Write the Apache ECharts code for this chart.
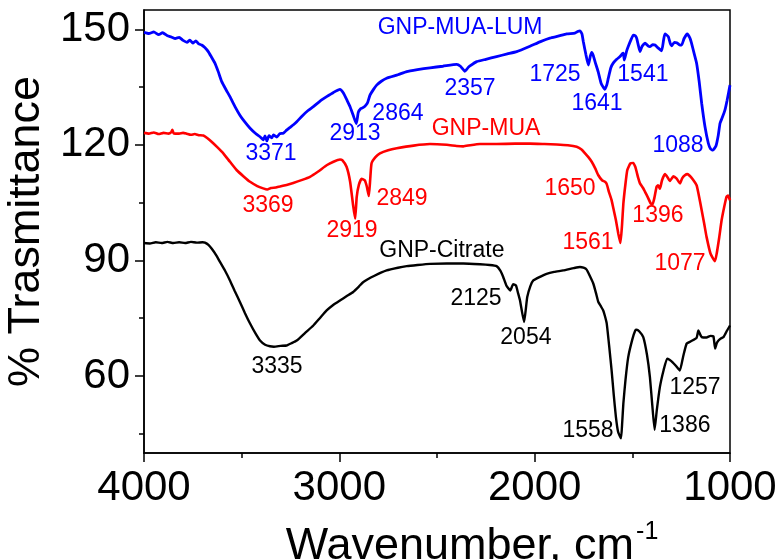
<!DOCTYPE html>
<html>
<head>
<meta charset="utf-8">
<script src="https://cdn.jsdelivr.net/npm/echarts@6/dist/echarts.min.js"></script>
<style>
  html, body { margin: 0; padding: 0; background: #fff; }
  #chart { width: 780px; height: 560px; }
</style>
</head>
<body>
<div id="chart"></div>
<script>
// FTIR spectra: [wavenumber (cm-1), % transmittance]
const gnpMuaLum = [
  [4000,149.2],[3975,148.9],[3950,149.3],[3925,148.6],[3905,149.1],[3880,148.3],[3860,148.0],[3840,147.6],
  [3820,147.9],[3800,147.1],[3780,146.6],[3765,147.2],[3750,146.4],[3735,147.0],[3720,146.2],[3705,145.9],
  [3690,145.3],[3671,144.2],[3655,142.8],[3637,141.2],[3620,139.0],[3602,136.4],[3580,134.3],[3560,132.5],
  [3535,130.0],[3509,127.7],[3485,126.0],[3457,124.3],[3430,123.0],[3406,122.1],[3390,121.3],[3380,122.3],
  [3371,121.0],[3360,122.4],[3345,121.8],[3338,122.6],[3320,122.0],[3305,122.9],[3287,123.0],[3270,123.8],
  [3250,124.6],[3235,125.2],[3218,126.0],[3190,127.5],[3160,128.9],[3133,129.9],[3100,131.3],[3065,132.5],
  [3030,133.6],[2997,134.4],[2980,133.5],[2960,131.5],[2945,129.9],[2930,127.8],[2913,125.5],[2903,128.4],
  [2890,129.4],[2877,129.7],[2864,130.3],[2855,131.0],[2843,132.9],[2825,134.4],[2809,135.5],[2785,136.5],
  [2758,137.3],[2700,138.2],[2655,139.0],[2600,139.5],[2536,140.0],[2470,140.4],[2399,140.9],[2380,140.4],
  [2357,139.1],[2340,140.1],[2331,140.5],[2297,141.6],[2250,142.2],[2195,142.9],[2140,143.6],[2092,144.2],
  [2024,145.6],[1970,146.8],[1922,147.7],[1880,148.2],[1836,148.8],[1794,149.0],[1780,149.4],[1768,149.6],
  [1758,148.8],[1751,146.8],[1738,143.5],[1725,140.7],[1715,143.0],[1708,144.0],[1700,143.2],[1691,141.6],
  [1675,139.0],[1660,136.0],[1641,134.4],[1630,135.7],[1623,137.3],[1610,140.0],[1598,141.2],[1580,142.2],
  [1563,142.9],[1550,143.7],[1546,143.8],[1541,142.0],[1530,144.2],[1521,145.5],[1505,147.5],[1495,148.5],
  [1485,148.3],[1478,147.7],[1470,146.0],[1461,144.2],[1450,145.6],[1435,146.4],[1420,145.7],[1410,145.5],
  [1395,146.0],[1384,145.9],[1367,145.1],[1350,144.4],[1340,147.2],[1333,148.8],[1316,148.1],[1305,146.2],
  [1299,145.7],[1285,146.6],[1273,146.5],[1260,146.0],[1248,145.9],[1235,147.6],[1219,148.8],[1205,147.7],
  [1197,146.4],[1185,144.0],[1171,141.2],[1158,136.5],[1145,130.8],[1128,124.7],[1111,120.4],[1100,119.0],
  [1088,118.6],[1072,119.7],[1060,122.5],[1051,125.6],[1040,127.0],[1026,129.0],[1015,131.5],[1000,135.5]
];

const gnpMua = [
  [4000,123.1],[3975,122.9],[3950,123.2],[3925,122.8],[3900,123.1],[3875,122.9],[3860,123.3],[3855,123.9],
  [3848,123.0],[3820,122.9],[3800,123.1],[3782,122.9],[3760,122.6],[3740,122.8],[3720,122.5],[3696,122.4],
  [3675,121.7],[3654,120.8],[3625,119.4],[3594,117.8],[3560,115.6],[3525,113.4],[3490,111.8],[3457,110.4],
  [3420,109.3],[3390,108.7],[3369,108.4],[3350,108.8],[3325,108.9],[3304,109.2],[3270,109.6],[3236,110.1],
  [3190,110.9],[3150,111.7],[3110,113.0],[3065,114.7],[3030,115.6],[2997,116.2],[2985,116.0],[2963,114.3],
  [2945,110.5],[2930,104.5],[2919,100.8],[2911,106.5],[2900,109.6],[2886,111.2],[2870,110.8],[2860,109.3],
  [2849,106.7],[2842,111.0],[2835,115.2],[2815,116.8],[2792,117.8],[2750,118.6],[2706,119.1],[2620,119.8],
  [2536,120.2],[2450,120.0],[2400,119.7],[2365,119.6],[2330,119.9],[2280,120.2],[2195,120.2],[2100,120.3],
  [2024,120.3],[1950,120.2],[1887,120.1],[1830,119.9],[1785,119.5],[1760,118.8],[1742,117.8],[1725,116.8],
  [1708,115.6],[1690,113.9],[1674,112.1],[1655,110.8],[1640,110.4],[1631,109.8],[1620,107.8],[1606,105.6],
  [1595,103.0],[1584,100.4],[1572,97.0],[1561,94.5],[1553,99.0],[1546,104.7],[1536,109.5],[1526,113.4],
  [1510,115.2],[1495,115.3],[1485,114.3],[1478,113.0],[1470,111.4],[1461,110.0],[1445,108.8],[1435,107.8],
  [1420,106.3],[1406,104.8],[1396,104.6],[1386,106.5],[1376,109.1],[1368,109.5],[1359,108.6],[1348,110.8],
  [1333,112.4],[1320,111.6],[1308,110.6],[1290,111.8],[1273,111.2],[1256,110.0],[1245,111.3],[1231,112.1],
  [1218,112.4],[1205,111.9],[1190,111.0],[1171,109.5],[1160,107.0],[1145,103.0],[1132,99.5],[1120,96.1],
  [1100,91.8],[1077,89.8],[1068,91.8],[1055,96.0],[1043,100.4],[1030,103.8],[1018,106.5],[1010,106.8],
  [1000,105.6]
];

const gnpCitrate = [
  [4000,94.5],[3970,94.4],[3940,94.7],[3910,94.5],[3880,94.8],[3850,94.5],[3820,94.7],[3790,94.5],
  [3760,94.8],[3730,94.6],[3700,94.7],[3688,94.6],[3670,94.0],[3653,93.0],[3630,91.3],[3611,89.6],
  [3585,87.3],[3560,84.8],[3535,82.0],[3509,79.2],[3483,76.3],[3457,73.6],[3430,71.1],[3406,69.2],
  [3380,68.1],[3355,67.7],[3335,67.6],[3300,67.8],[3270,67.9],[3245,68.5],[3218,69.2],[3175,71.2],
  [3133,73.1],[3100,75.0],[3065,77.0],[3030,78.5],[2997,79.6],[2960,80.8],[2929,81.8],[2900,83.2],
  [2877,84.4],[2820,86.0],[2758,87.4],[2700,88.1],[2655,88.5],[2600,88.8],[2536,89.1],[2450,89.2],
  [2365,89.2],[2280,89.0],[2230,88.8],[2195,88.5],[2175,87.3],[2161,85.7],[2145,83.5],[2125,82.2],
  [2110,83.8],[2096,83.5],[2085,81.5],[2075,79.6],[2054,74.0],[2045,77.5],[2038,80.5],[2022,83.3],
  [2007,84.8],[1970,85.8],[1939,86.5],[1900,87.0],[1854,87.4],[1800,88.0],[1768,88.3],[1750,88.1],
  [1734,87.6],[1718,86.0],[1700,84.0],[1686,81.5],[1674,79.2],[1660,78.0],[1649,77.0],[1640,75.5],
  [1631,73.6],[1618,67.5],[1606,61.4],[1595,55.0],[1584,49.3],[1573,45.5],[1558,43.8],[1552,47.8],
  [1546,52.8],[1535,59.0],[1521,64.9],[1500,69.5],[1485,71.8],[1478,72.0],[1465,71.6],[1444,70.1],
  [1425,65.5],[1410,59.7],[1398,52.5],[1386,46.0],[1375,51.0],[1359,57.1],[1340,61.5],[1322,64.5],
  [1310,64.2],[1295,63.6],[1275,62.5],[1257,61.4],[1240,65.0],[1222,68.4],[1200,69.0],[1171,69.9],
  [1162,71.8],[1153,70.8],[1145,70.1],[1120,70.0],[1100,70.4],[1085,70.3],[1076,67.1],[1068,68.5],
  [1059,69.2],[1045,69.8],[1033,70.1],[1015,71.8],[1000,73.1]
];

// Tick values
const xMajorTicks = [4000, 3000, 2000, 1000];
const xMinorTicks = [3500, 2500, 1500];
const yMajorTicks = [60, 90, 120, 150];
const yMinorTicks = [45, 75, 105, 135];

// Annotation texts for each spectrum
const lumTexts = ['GNP-MUA-LUM', '3371', '2913', '2864', '2357', '1725', '1641', '1541', '1088'];
const muaTexts = ['GNP-MUA', '3369', '2919', '2849', '1650', '1561', '1396', '1077'];
const citTexts = ['GNP-Citrate', '3335', '2125', '2054', '1558', '1386', '1257'];

// Where each annotation sits, in axis units [wavenumber, transmittance]
const lumAnchors = [[2382,150.3],[3350,117.8],[2920,123.0],[2700,128.2],[2331,134.7],[1896,138.1],[1681,130.6],[1446,138.1],[1266,119.9]];
const muaAnchors = [[2249,124.1],[3365,104.3],[2935,97.8],[2679,106.1],[1819,108.5],[1727,94.7],[1369,101.7],[1256,89.2]];
const citAnchors = [[2475,92.6],[3319,62.4],[2300,80.1],[2045,70.0],[1727,45.8],[1231,47.1],[1179,57.0]];

const FONT = "'Liberation Sans', Arial, sans-serif";
const BLUE = '#0000ff', RED = '#ff0000', BLACK = '#000000';

function spectrum(name, data, color, width) {
  return {
    name, type: 'line', data, xAxisIndex: 0, yAxisIndex: 0,
    showSymbol: false, symbol: 'none', smooth: 0.15, silent: true,
    lineStyle: { color, width }, z: 3
  };
}

function annotations(texts, anchors, color) {
  return {
    type: 'scatter', xAxisIndex: 0, yAxisIndex: 0, silent: true,
    symbolSize: 0.01, z: 5,
    itemStyle: { opacity: 1, color },
    data: anchors.map((a, i) => ({ value: a, name: texts[i] })),
    label: {
      show: true, position: 'inside', formatter: p => p.name, opacity: 1,
      color, fontFamily: FONT, fontSize: 23, align: 'center', verticalAlign: 'middle'
    }
  };
}

const plainNumber = v => String(v);

const chart = echarts.init(document.getElementById('chart'), null, { renderer: 'canvas' });

chart.setOption({
  animation: false,
  backgroundColor: '#ffffff',
  grid: {
    left: 144, right: 50, top: 10, bottom: 107,
    outerBoundsMode: 'none', containLabel: false,
    show: true, borderColor: '#000', borderWidth: 1.5
  },
  xAxis: [
    {
      type: 'value', inverse: true, min: 1000, max: 4000,
      axisLine: { show: true, lineStyle: { color: '#000', width: 1.5 } },
      axisTick: { show: true, customValues: xMajorTicks, length: 9, inside: false, lineStyle: { color: '#000', width: 1.5 } },
      axisLabel: { customValues: xMajorTicks, formatter: plainNumber, color: '#000', fontFamily: FONT, fontSize: 42, margin: 14 },
      splitLine: { show: false },
      name: '{a|Wavenumber, cm}{b|-1}',
      nameLocation: 'middle', nameGap: 67,
      nameTextStyle: {
        padding: [0, 0, 0, 70],
        rich: {
          a: { fontFamily: FONT, fontSize: 45, color: '#000' },
          b: { fontFamily: FONT, fontSize: 25, color: '#000', padding: [0, 0, 28, 2] }
        }
      }
    },
    {
      type: 'value', inverse: true, min: 1000, max: 4000, position: 'bottom',
      axisLine: { show: false },
      axisTick: { show: true, customValues: xMinorTicks, length: 5, lineStyle: { color: '#000', width: 1.5 } },
      axisLabel: { show: false },
      splitLine: { show: false }
    }
  ],
  yAxis: [
    {
      type: 'value', min: 40, max: 155,
      axisLine: { show: true, lineStyle: { color: '#000', width: 1.5 } },
      axisTick: { show: true, customValues: yMajorTicks, length: 9, lineStyle: { color: '#000', width: 1.5 } },
      axisLabel: { customValues: yMajorTicks, formatter: plainNumber, color: '#000', fontFamily: FONT, fontSize: 42, margin: 14 },
      splitLine: { show: false },
      name: '% Trasmittance', nameLocation: 'middle', nameGap: 91, nameRotate: 90,
      nameTextStyle: { fontFamily: FONT, fontSize: 45, color: '#000' }
    },
    {
      type: 'value', min: 40, max: 155, position: 'left',
      axisLine: { show: false },
      axisTick: { show: true, customValues: yMinorTicks, length: 5, lineStyle: { color: '#000', width: 1.5 } },
      axisLabel: { show: false },
      splitLine: { show: false }
    }
  ],
  series: [
    spectrum('GNP-Citrate', gnpCitrate, BLACK, 2.4),
    spectrum('GNP-MUA', gnpMua, RED, 2.6),
    spectrum('GNP-MUA-LUM', gnpMuaLum, BLUE, 2.8),
    annotations(citTexts, citAnchors, BLACK),
    annotations(muaTexts, muaAnchors, RED),
    annotations(lumTexts, lumAnchors, BLUE)
  ]
});
</script>
</body>
</html>
